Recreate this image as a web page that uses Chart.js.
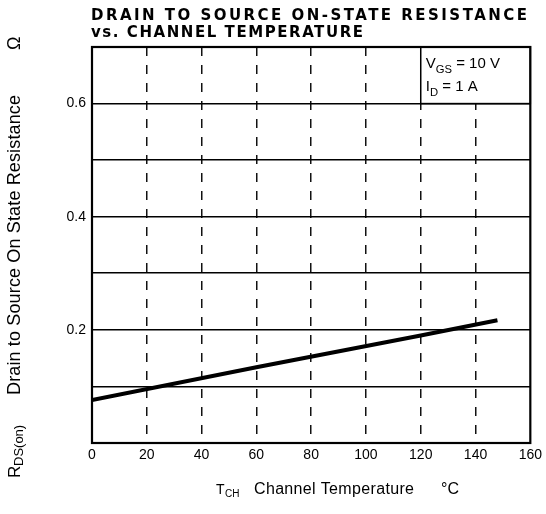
<!DOCTYPE html>
<html>
<head>
<meta charset="utf-8">
<script src="https://cdn.jsdelivr.net/npm/chart.js@4"></script>
<style>
  html, body { margin: 0; padding: 0; background: #fff; }
  canvas { display: block; }
</style>
</head>
<body>
<canvas id="grafico" width="546" height="514"></canvas>
<script>
// valores (Tch em °C, RDS(on) em ohm)
const temperaturas = [0, 60, 120, 148];
const resistencia = [0.076, 0.134, 0.19, 0.217];
const xTicks = [0, 20, 40, 60, 80, 100, 120, 140, 160];
const yTicksRotulo = [0.2, 0.4, 0.6];

const titulo1 = 'DRAIN TO SOURCE ON-STATE RESISTANCE';
const titulo2 = 'vs. CHANNEL TEMPERATURE';
const FONTE = '"Liberation Sans", Arial, sans-serif';

// desenha texto com subscritos: partes = [[texto, sub?], ...]
function textoRico(ctx, partes, x, y, tam) {
  let cx = x;
  partes.forEach(([t, sub]) => {
    ctx.font = (sub ? tam * 0.75 : tam) + 'px ' + FONTE;
    ctx.fillText(t, cx, sub ? y + tam * 0.3 : y);
    cx += ctx.measureText(t).width;
  });
}

// texto esticado para caber numa largura
function textoLargura(ctx, t, x, y, largura) {
  ctx.letterSpacing = '0px';
  const w = ctx.measureText(t).width;
  ctx.letterSpacing = ((largura - w) / Math.max(1, t.length - 1)) + 'px';
  ctx.fillText(t, x, y);
  ctx.letterSpacing = '0px';
}

const extras = {
  id: 'extras',
  afterDraw(chart) {
    const ctx = chart.ctx;
    const a = chart.chartArea;
    const xs = chart.scales.x, ys = chart.scales.y;
    ctx.save();
    ctx.fillStyle = '#000';
    ctx.strokeStyle = '#000';

    // caixa de condições
    const bx = xs.getPixelForValue(120), by = ys.getPixelForValue(0.6);
    ctx.fillStyle = '#fff';
    ctx.fillRect(bx, a.top, a.right - bx, by - a.top);
    ctx.lineWidth = 1.5;
    ctx.strokeRect(bx, a.top, a.right - bx, by - a.top);
    ctx.fillStyle = '#000';
    ctx.textBaseline = 'alphabetic';
    textoRico(ctx, [['V'], ['GS', true], [' = 10 V']], bx + 5, a.top + 21, 15);
    textoRico(ctx, [['I'], ['D', true], [' = 1 A']], bx + 5, a.top + 44, 15);

    // moldura
    ctx.lineWidth = 2.2;
    ctx.strokeRect(a.left, a.top, a.right - a.left, a.bottom - a.top);

    // título
    ctx.font = 'bold 15px "DejaVu Sans", sans-serif';
    ctx.textAlign = 'left';
    textoLargura(ctx, titulo1, 91, 20, 436);
    textoLargura(ctx, titulo2, 91, 37, 272);

    // título do eixo x
    ctx.font = '14px ' + FONTE;
    ctx.fillText('T', 216, 494);
    ctx.font = '10px ' + FONTE;
    ctx.fillText('CH', 225, 497);
    ctx.font = '16px ' + FONTE;
    textoLargura(ctx, 'Channel Temperature', 254, 494, 160);
    ctx.fillText('°C', 441, 494);

    // título do eixo y (rotacionado)
    ctx.translate(20, 478);
    ctx.rotate(-Math.PI / 2);
    ctx.font = '17px ' + FONTE;
    ctx.fillText('R', 0, 0);
    ctx.font = '13px ' + FONTE;
    ctx.fillText('DS(on)', 12, 3);
    ctx.font = '18px ' + FONTE;
    textoLargura(ctx, 'Drain to Source On State Resistance', 83, 0, 300);
    ctx.fillText('Ω', 428, 0);
    ctx.restore();
  }
};

const ctx = document.getElementById('grafico').getContext('2d');
new Chart(ctx, {
  type: 'scatter',
  data: {
    datasets: [{
      data: temperaturas.map((t, i) => ({ x: t, y: resistencia[i] })),
      showLine: true,
      borderColor: '#000',
      borderWidth: 4,
      pointRadius: 0,
      tension: 0
    }]
  },
  options: {
    responsive: false,
    animation: false,
    layout: { padding: { left: 0, right: 15, top: 47, bottom: 0 } },
    plugins: { legend: { display: false }, tooltip: { enabled: false }, title: { display: false } },
    scales: {
      x: {
        type: 'linear', min: 0, max: 160,
        afterFit: s => { s.height = 71; },
        afterBuildTicks: s => { s.ticks = xTicks.map(v => ({ value: v })); },
        ticks: { padding: 4, color: '#000', font: { size: 14, family: FONTE } },
        grid: {
          drawTicks: false,
          color: c => (c.tick.value === 0 || c.tick.value === 160) ? 'rgba(0,0,0,0)' : '#111',
          lineWidth: 1.5
        },
        border: { display: false, dash: [9, 9] }
      },
      y: {
        min: 0, max: 0.7,
        afterFit: s => { s.width = 92; },
        afterBuildTicks: s => { s.ticks = [0, 0.1, 0.2, 0.3, 0.4, 0.5, 0.6, 0.7].map(v => ({ value: v })); },
        ticks: {
          padding: 6, color: '#000',
          font: { size: 14, family: FONTE },
          callback: v => yTicksRotulo.some(r => Math.abs(r - v) < 1e-6) ? v.toFixed(1) : ''
        },
        grid: { drawTicks: false, color: '#000', lineWidth: 1.6 },
        border: { display: false }
      }
    }
  },
  plugins: [extras]
});
</script>
</body>
</html>
